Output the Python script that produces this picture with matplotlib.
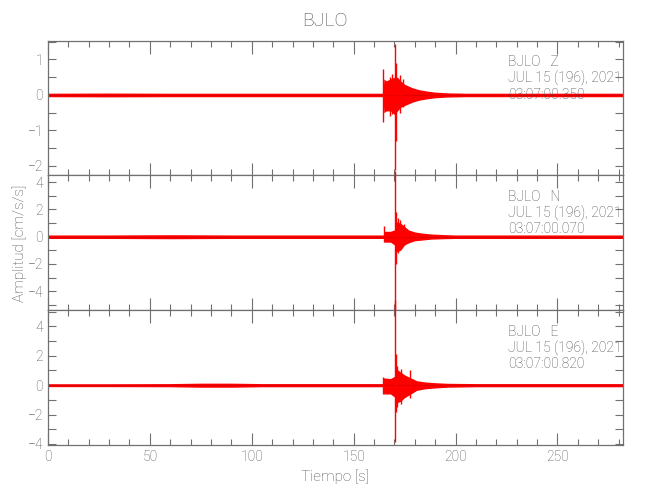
import matplotlib
matplotlib.use('Agg')
import matplotlib.pyplot as plt
from matplotlib.ticker import MultipleLocator

plt.rcParams['font.family'] = ['Roboto', 'DejaVu Sans']
plt.rcParams['font.weight'] = 'light'
plt.rcParams['axes.labelweight'] = 'light'
plt.rcParams['figure.titleweight'] = 'light'

station = 'BJLO'
channels = ['Z', 'N', 'E']
date_text = 'JUL 15 (196), 2021'
start_times = ['03:07:00.350', '03:07:00.070', '03:07:00.820']

# Z component: envelope of the trace and the strongest spikes (cm/s/s)
z_t = [0, 30, 60, 90, 120, 150, 164.4, 164.8, 166, 168, 170, 171.5, 173, 175, 177, 179, 182, 186, 190, 196, 205, 230, 260, 282]
z_hi = [0.05, 0.055, 0.05, 0.05, 0.05, 0.05, 0.05, 0.45, 0.4, 0.45, 0.5, 0.5, 0.4, 0.3, 0.25, 0.2, 0.15, 0.11, 0.08, 0.06, 0.05, 0.05, 0.05, 0.05]
z_lo = [-0.05, -0.055, -0.05, -0.05, -0.05, -0.05, -0.05, -0.5, -0.45, -0.45, -0.55, -0.45, -0.35, -0.3, -0.25, -0.2, -0.15, -0.11, -0.08, -0.06, -0.05, -0.05, -0.05, -0.05]
z_spk_t = [164.6, 167.6, 168.6, 170.4, 170.8, 172.5, 174.0]
z_spk_hi = [0.73, 0.5, 0.6, 1.45, 0.9, 0.55, 0.45]
z_spk_lo = [-0.77, -0.6, -0.55, -2.12, -1.3, -0.5, -0.35]

# N component
n_t = [0, 30, 60, 90, 120, 150, 164.7, 165, 168, 170, 171, 173, 175, 177, 180, 184, 188, 194, 200, 230, 260, 282]
n_hi = [0.13, 0.13, 0.15, 0.13, 0.13, 0.13, 0.13, 0.4, 0.4, 0.5, 1.1, 1.0, 0.75, 0.5, 0.35, 0.26, 0.2, 0.16, 0.13, 0.13, 0.13, 0.13]
n_lo = [-0.13, -0.13, -0.15, -0.13, -0.13, -0.13, -0.13, -0.4, -0.4, -0.6, -1.1, -1.0, -0.6, -0.45, -0.3, -0.24, -0.18, -0.15, -0.13, -0.13, -0.13, -0.13]
n_spk_t = [164.9, 170.4, 170.9, 171.8, 172.6, 174.5]
n_spk_hi = [0.8, 4.8, 1.8, 1.36, 1.2, 0.9]
n_spk_lo = [-0.4, -5.33, -2.0, -1.2, -0.9, -0.6]

# E component
e_t = [0, 30, 60, 75, 90, 105, 120, 150, 164.4, 164.7, 168, 170, 171, 173, 175, 178, 181, 185, 190, 196, 210, 240, 282]
e_hi = [0.1, 0.1, 0.11, 0.14, 0.14, 0.11, 0.11, 0.11, 0.11, 0.5, 0.45, 0.6, 1.1, 0.9, 0.7, 0.5, 0.3, 0.22, 0.17, 0.13, 0.11, 0.11, 0.11]
e_lo = [-0.1, -0.1, -0.11, -0.14, -0.14, -0.11, -0.11, -0.11, -0.11, -0.6, -0.6, -0.8, -1.2, -1.1, -0.85, -0.6, -0.35, -0.25, -0.19, -0.14, -0.11, -0.11, -0.11]
e_spk_t = [164.6, 170.4, 170.7, 171.5, 173.0, 177.7]
e_spk_hi = [0.56, 5.8, 2.1, 1.3, 1.1, 1.0]
e_spk_lo = [-0.61, -3.84, -1.8, -1.5, -1.3, -0.85]

traces = [
    (z_t, z_hi, z_lo, z_spk_t, z_spk_hi, z_spk_lo),
    (n_t, n_hi, n_lo, n_spk_t, n_spk_hi, n_spk_lo),
    (e_t, e_hi, e_lo, e_spk_t, e_spk_hi, e_spk_lo),
]
ylims = [(-2.27, 1.53), (-5.4, 4.5), (-4.07, 5.1)]
ymajor = [1, 2, 2]
yminor = [0.5, 1, 1]

gray = '#707070'
txtgray = '#4a4a4a'

fig, axes = plt.subplots(3, 1, figsize=(6.5, 5), dpi=100, sharex=True,
                         gridspec_kw={'hspace': 0})
fig.subplots_adjust(left=0.0738, right=0.958, top=0.9186, bottom=0.11)

for i, ax in enumerate(axes):
    t, hi, lo, st, sh, sl = traces[i]
    ax.fill_between(t, lo, hi, color='red', lw=0)
    ax.vlines(st, sl, sh, color='red', lw=1.0, clip_on=False, zorder=3)
    ax.axhline(0, color='#e00000', lw=0.8)
    ax.set_xlim(0, 282)
    ax.set_ylim(*ylims[i])
    ax.xaxis.set_major_locator(MultipleLocator(50))
    ax.xaxis.set_minor_locator(MultipleLocator(10))
    ax.yaxis.set_major_locator(MultipleLocator(ymajor[i]))
    ax.yaxis.set_minor_locator(MultipleLocator(yminor[i]))
    ax.tick_params(which='both', direction='in', top=True, right=True,
                   color=gray, labelcolor='#505050', labelsize=10, width=0.8)
    ax.tick_params(axis='x', which='major', length=9)
    ax.tick_params(axis='x', which='minor', length=4)
    ax.tick_params(axis='y', which='both', length=6)
    for s in ax.spines.values():
        s.set_color(gray)
        s.set_linewidth(0.9)
    ax.text(0.80, 0.84, station + '   ' + channels[i], transform=ax.transAxes,
            color=txtgray, fontsize=10, va='center')
    ax.text(0.80, 0.72, date_text, transform=ax.transAxes,
            color=txtgray, fontsize=10, va='center')
    ax.text(0.80, 0.60, start_times[i], transform=ax.transAxes,
            color=txtgray, fontsize=10, va='center')

axes[-1].set_xlabel('Tiempo [s]', color='#505050', fontsize=11, labelpad=4)
fig.text(0.03, 0.514, 'Amplitud [cm/s/s]', rotation=90, color='#505050',
         fontsize=11, ha='center', va='center')
fig.suptitle(station, color='#505050', fontsize=14, y=0.975)

fig.savefig('out.png', dpi=100)
